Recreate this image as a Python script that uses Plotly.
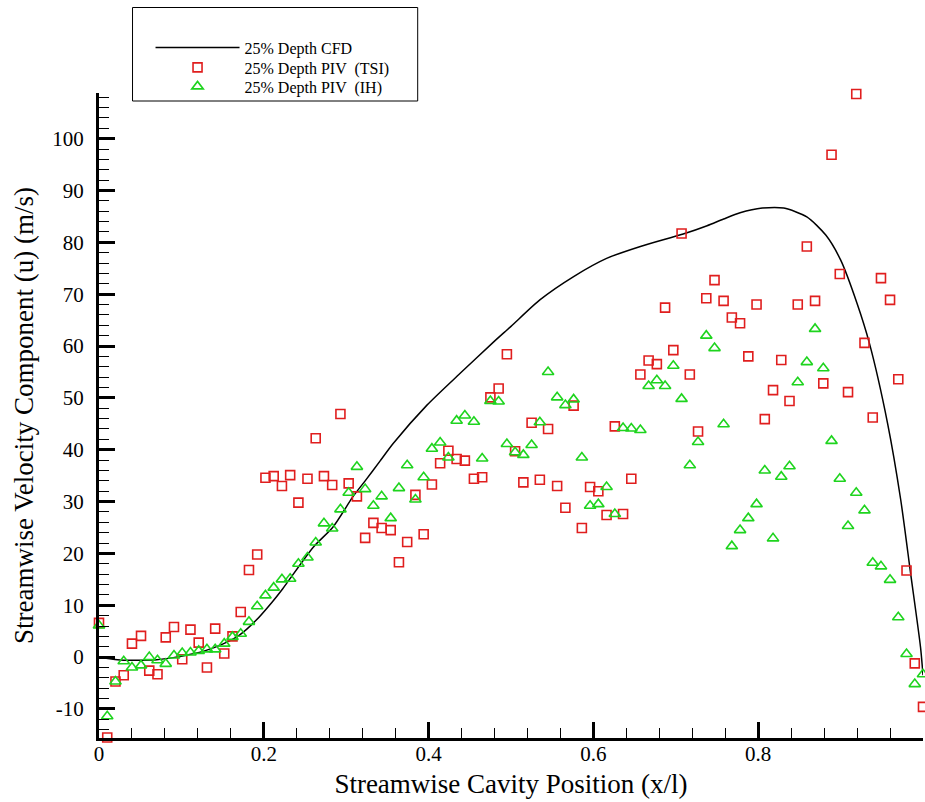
import plotly.graph_objects as go

# streamwise positions of the PIV samples (x/l)
x_piv = [0.0, 0.01, 0.02, 0.03, 0.04, 0.051, 0.061, 0.071, 0.081, 0.091,
         0.101, 0.111, 0.121, 0.131, 0.141, 0.152, 0.162, 0.172, 0.182, 0.192,
         0.202, 0.212, 0.222, 0.232, 0.242, 0.253, 0.263, 0.273, 0.283, 0.293,
         0.303, 0.313, 0.323, 0.333, 0.343, 0.354, 0.364, 0.374, 0.384, 0.394,
         0.404, 0.414, 0.424, 0.434, 0.444, 0.455, 0.465, 0.475, 0.485, 0.495,
         0.505, 0.515, 0.525, 0.535, 0.545, 0.556, 0.566, 0.576, 0.586, 0.596,
         0.606, 0.616, 0.626, 0.636, 0.646, 0.657, 0.667, 0.677, 0.687, 0.697,
         0.707, 0.717, 0.727, 0.737, 0.747, 0.758, 0.768, 0.778, 0.788, 0.798,
         0.808, 0.818, 0.828, 0.838, 0.848, 0.859, 0.869, 0.879, 0.889, 0.899,
         0.909, 0.919, 0.929, 0.939, 0.949, 0.96, 0.97, 0.98, 0.99, 1.0]

# 25% depth PIV (TSI) velocities, m/s
u_tsi = [6.6, -15.5, -4.7, -3.5, 2.6, 4.1, -2.6, -3.3, 3.8, 5.8,
         -0.4, 5.3, 2.8, -2.0, 5.5, 0.7, 4.0, 8.7, 16.8, 19.8,
         34.6, 34.9, 33.0, 35.1, 29.8, 34.4, 42.2, 34.9, 33.2, 46.9,
         33.5, 31.0, 23.0, 25.9, 24.9, 24.5, 18.3, 22.2, 31.3, 23.7,
         33.3, 37.4, 39.8, 38.2, 37.9, 34.4, 34.7, 50.1, 51.8, 58.4,
         39.7, 33.7, 45.2, 34.2, 44.0, 33.0, 28.8, 48.5, 24.9, 32.8,
         32.0, 27.4, 44.5, 27.6, 34.4, 54.5, 57.2, 56.5, 67.4, 59.2,
         81.7, 54.5, 43.5, 69.2, 72.7, 68.7, 65.5, 64.4, 58.0, 68.0,
         45.9, 51.5, 57.3, 49.4, 68.0, 79.2, 68.7, 52.8, 96.9, 73.9,
         51.1, 108.6, 60.6, 46.2, 73.1, 68.9, 53.6, 16.7, -1.2, -9.6]

# 25% depth PIV (IH) velocities, m/s
u_ih = [6.1, -11.4, -4.7, -0.8, -2.0, -1.6, 0.0, -0.6, -1.3, 0.3,
        0.8, 0.9, 1.2, 1.5, 1.5, 2.6, 3.9, 4.5, 6.8, 9.8,
        11.9, 13.4, 15.0, 15.1, 18.0, 19.2, 22.1, 25.8, 24.8, 28.5,
        31.7, 36.7, 32.4, 29.2, 31.0, 26.8, 32.6, 37.0, 30.4, 34.7,
        40.2, 41.4, 38.5, 45.6, 46.6, 45.4, 38.3, 49.4, 49.3, 41.1,
        39.5, 39.0, 40.9, 45.3, 55.0, 50.1, 48.6, 49.7, 38.5, 29.2,
        29.5, 32.8, 27.6, 44.2, 44.1, 43.8, 52.3, 53.4, 52.3, 56.2,
        49.8, 37.0, 41.5, 62.0, 59.6, 44.9, 21.4, 24.5, 26.8, 29.5,
        36.0, 22.9, 34.8, 36.8, 53.0, 56.9, 63.3, 55.7, 41.7, 34.4,
        25.3, 31.7, 28.3, 18.2, 17.5, 14.9, 7.7, 0.6, -5.2, -3.3]

# 25% depth CFD profile
x_cfd = [0.0, 0.03, 0.05, 0.07, 0.09, 0.11, 0.13, 0.15, 0.17, 0.19,
         0.21, 0.223, 0.26, 0.284, 0.308, 0.323, 0.341, 0.357, 0.398, 0.438,
         0.479, 0.5, 0.535, 0.576, 0.616, 0.657, 0.709, 0.738, 0.758, 0.778,
         0.805, 0.831, 0.859, 0.882, 0.9, 0.92, 0.935, 0.957, 0.973, 0.985,
         0.997, 1.0]
u_cfd = [0.0, -0.6, -0.6, -0.5, -0.1, 0.5, 1.3, 2.5, 4.2, 7.0,
         10.6, 13.2, 21.2, 25.1, 30.9, 34.0, 37.8, 41.2, 48.6, 54.7,
         60.8, 63.8, 68.9, 73.4, 76.9, 79.2, 81.6, 83.2, 84.5, 85.7,
         86.6, 86.6, 84.9, 81.4, 76.6, 68.2, 60.5, 45.1, 30.3, 16.1,
         1.9, -3.5]

# tick labels as printed (plain hyphen for negatives)
y_ticks = [-10, 0, 10, 20, 30, 40, 50, 60, 70, 80, 90, 100]
y_ticktext = ["-10", "0", "10", "20", "30", "40", "50", "60", "70", "80", "90", "100"]
x_ticks = [0, 0.2, 0.4, 0.6, 0.8, 1]
x_ticktext = ["0", "0.2", "0.4", "0.6", "0.8", "1"]

FONT = "Liberation Serif"

fig = go.Figure()
fig.add_trace(go.Scatter(x=x_cfd, y=u_cfd, mode="lines", name="25% Depth CFD",
                         legend="legend",
                         line=dict(color="black", width=1.5, shape="spline", smoothing=0.7)))
fig.add_trace(go.Scatter(x=x_piv, y=u_tsi, mode="markers", name="25% Depth PIV  (TSI)",
                         legend="legend2", cliponaxis=False,
                         marker=dict(symbol="square-open", size=9, color="#e01e1e",
                                     line=dict(width=1.6))))
fig.add_trace(go.Scatter(x=x_piv, y=u_ih, mode="markers", name="25% Depth PIV  (IH)",
                         legend="legend3", cliponaxis=False,
                         marker=dict(symbol="triangle-up-open", size=10, color="#1ed41e",
                                     line=dict(width=1.6))))

axis_common = dict(
    showline=True, linecolor="black", linewidth=3, mirror=False,
    showgrid=False, zeroline=False, automargin=False,
    ticks="inside", ticklen=16, tickwidth=3, tickcolor="black",
    tickfont=dict(family=FONT, size=21, color="black"),
)

fig.update_xaxes(range=[0, 1], tickvals=x_ticks, ticktext=x_ticktext,
                 minor=dict(ticks="inside", ticklen=10, tickwidth=1.2, dtick=0.04, tick0=0,
                            tickcolor="black"),
                 ticklabelstandoff=-5,
                 title=dict(text="Streamwise Cavity Position (x/l)",
                            font=dict(family=FONT, size=27, color="black"), standoff=9),
                 **axis_common)
fig.update_yaxes(range=[-15.6, 108.8], tickvals=y_ticks, ticktext=y_ticktext,
                 minor=dict(ticks="inside", ticklen=10, tickwidth=1.2, dtick=2, tick0=0,
                            tickcolor="black"),
                 ticklabelstandoff=8,
                 title=dict(text="Streamwise Velocity Component (u) (m/s)",
                            font=dict(family=FONT, size=27, color="black"), standoff=11),
                 **axis_common)

# legend frame drawn separately so the entries can sit where the original has them
fig.add_shape(type="rect", xref="paper", yref="paper",
              x0=(133 - 99.5) / 823.5, x1=(418 - 99.5) / 823.5,
              y0=(738 - 101) / 645, y1=(738 - 7.5) / 645,
              line=dict(color="black", width=1), fillcolor="white", layer="below")

# one legend per entry, so the row spacing matches the original
legend_style = dict(x=(151 - 99.5) / 823.5, xanchor="left", yanchor="top",
                    bgcolor="rgba(0,0,0,0)", borderwidth=0, itemwidth=84,
                    font=dict(family=FONT, size=16, color="black"))

fig.update_layout(
    width=925, height=802,
    margin=dict(l=99, r=2, t=93, b=64),
    paper_bgcolor="white", plot_bgcolor="white",
    font=dict(family=FONT, color="black"),
    showlegend=True,
    legend=dict(y=(738 - 30.5) / 645, **legend_style),
    legend2=dict(y=(738 - 50.5) / 645, **legend_style),
    legend3=dict(y=(738 - 69.5) / 645, **legend_style),
)

# the page body has a default 8px margin; remove it so the figure fills the window
fig.write_html("out.html", config={"displayModeBar": False},
               post_script="document.body.style.margin='0';")
